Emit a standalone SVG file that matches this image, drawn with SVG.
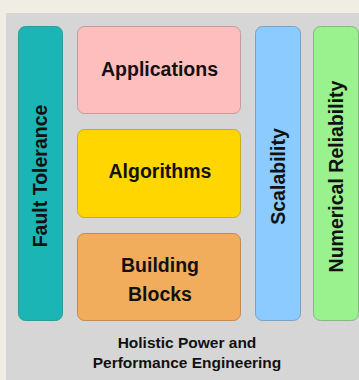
<svg xmlns="http://www.w3.org/2000/svg" width="359" height="380" viewBox="0 0 359 380">
  <style>
    .box { stroke-width: 1; }
    .lbl { font-family: "Liberation Sans", Arial, sans-serif; font-weight: bold; fill: #111; text-anchor: middle; }
    .big { font-size: 19.5px; }
    .small { font-size: 15.5px; }
  </style>
  <!-- page and panel -->
  <rect x="0" y="0" width="359" height="380" fill="#efede4"/>
  <rect x="6" y="13" width="360" height="380" fill="#d6d6d6"/>

  <g id="fault-tolerance">
    <rect class="box" x="18.5" y="26.5" width="44" height="294" rx="7" fill="#1bb5b5" stroke="#2a9c9c"/>
    <text class="lbl big" transform="translate(47,176) rotate(-90)">Fault Tolerance</text>
  </g>

  <g id="applications">
    <rect class="box" x="77.5" y="26.5" width="163" height="87" rx="7" fill="#ffbebe" stroke="#c49a9a"/>
    <text class="lbl big" x="159.5" y="76">Applications</text>
  </g>

  <g id="algorithms">
    <rect class="box" x="77.5" y="129.5" width="163" height="88" rx="7" fill="#ffd600" stroke="#c8aa20"/>
    <text class="lbl big" x="160" y="178">Algorithms</text>
  </g>

  <g id="building-blocks">
    <rect class="box" x="77.5" y="233.5" width="163" height="87" rx="7" fill="#f2ad5c" stroke="#c08b50"/>
    <text class="lbl big" x="160" y="272">Building</text>
    <text class="lbl big" x="160" y="301">Blocks</text>
  </g>

  <g id="scalability">
    <rect class="box" x="255.5" y="26.5" width="45" height="294" rx="7" fill="#8ccbff" stroke="#7aa0c4"/>
    <text class="lbl big" transform="translate(285,176.5) rotate(-90)">Scalability</text>
  </g>

  <g id="numerical-reliability">
    <rect class="box" x="313.5" y="26.5" width="45" height="294" rx="7" fill="#9af28e" stroke="#84b87c"/>
    <text class="lbl big" transform="translate(343,176.5) rotate(-90)">Numerical Reliability</text>
  </g>

  <g id="caption">
    <text class="lbl small" x="187" y="348">Holistic Power and</text>
    <text class="lbl small" x="187" y="368">Performance Engineering</text>
  </g>

  <g id="connectors"/>
</svg>
